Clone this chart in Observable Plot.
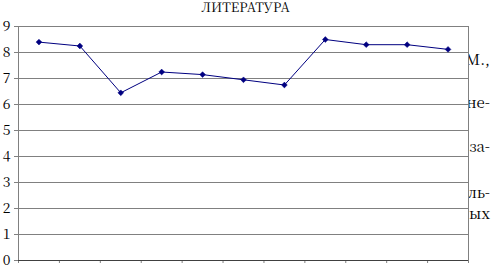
<!DOCTYPE html>
<html>
<head>
<meta charset="utf-8">
<script src="https://cdn.jsdelivr.net/npm/d3@7"></script>
<script src="https://cdn.jsdelivr.net/npm/@observablehq/plot@0.6"></script>
<style>
  * { font-family: 'Noto Serif CJK SC', 'Liberation Serif', serif !important; }
  html, body { margin: 0; padding: 0; background: #fff; }
  #wrap { position: relative; width: 491px; height: 266px; overflow: hidden; }
  #title { position: absolute; left: 0; width: 491px; top: -1px; text-align: center; font-size: 13px; line-height: 16px; color: #000; }
  #side { position: absolute; left: 469px; top: 0; width: 22px; height: 266px; overflow: hidden; }
  #side span { position: absolute; right: 1px; white-space: nowrap; font-size: 15px; line-height: 16px; color: #000; }
</style>
</head>
<body>
<div id="wrap">
  <div id="chart"></div>
  <div id="title"></div>
  <div id="side"></div>
</div>
<script>
const title = "ЛИТЕРАТУРА";
const categories = [1, 2, 3, 4, 5, 6, 7, 8, 9, 10, 11];
const values = [8.4, 8.25, 6.45, 7.25, 7.15, 6.95, 6.75, 8.5, 8.3, 8.3, 8.12];
const yTicks = [0, 1, 2, 3, 4, 5, 6, 7, 8, 9];
const sideTexts = ["М.,", "не-", "за-", "ль-", "ых"];
const sideTops = [51, 94, 138, 184, 205];

const data = categories.map((c, i) => ({cat: c, idx: i + 0.5, value: values[i]}));

const chart = Plot.plot({
  width: 491,
  height: 266,
  marginTop: 26,
  marginBottom: 6,
  marginLeft: 18,
  marginRight: 23,
  style: { fontFamily: "'Noto Serif CJK SC', 'Liberation Serif', serif", fontSize: "14px", color: "#000", background: "#fff" },
  x: { domain: [0, categories.length], axis: null, label: null },
  y: { domain: [0, 9], axis: null, label: null },
  marks: [
    Plot.gridY(yTicks.filter(t => t > 0), { stroke: "#808080", strokeOpacity: 1, strokeWidth: 1 }),
    Plot.ruleX([categories.length], { stroke: "#808080", strokeWidth: 1 }),
    Plot.axisY(yTicks, { tickSize: 4, tickPadding: 4, stroke: "#808080", fontSize: 14, fill: "#000", label: null }),
    Plot.ruleX([0], { stroke: "#808080", strokeWidth: 1 }),
    Plot.axisX(d3.range(categories.length + 1), { tickSize: 3, tickFormat: () => "", stroke: "#808080", label: null }),
    Plot.ruleY([0], { stroke: "#404040", strokeWidth: 1 }),
    Plot.line(data, { x: "idx", y: "value", stroke: "#000080", strokeWidth: 1 }),
    Plot.dot(data, { x: "idx", y: "value", symbol: "diamond2", r: 2.6, fill: "#000080", stroke: "#000080", strokeWidth: 0.5 })
  ]
});
document.getElementById("chart").appendChild(chart);
document.getElementById("title").textContent = title;
const side = document.getElementById("side");
sideTexts.forEach((t, i) => {
  const s = document.createElement("span");
  s.textContent = t;
  s.style.top = sideTops[i] + "px";
  side.appendChild(s);
});
</script>
</body>
</html>
